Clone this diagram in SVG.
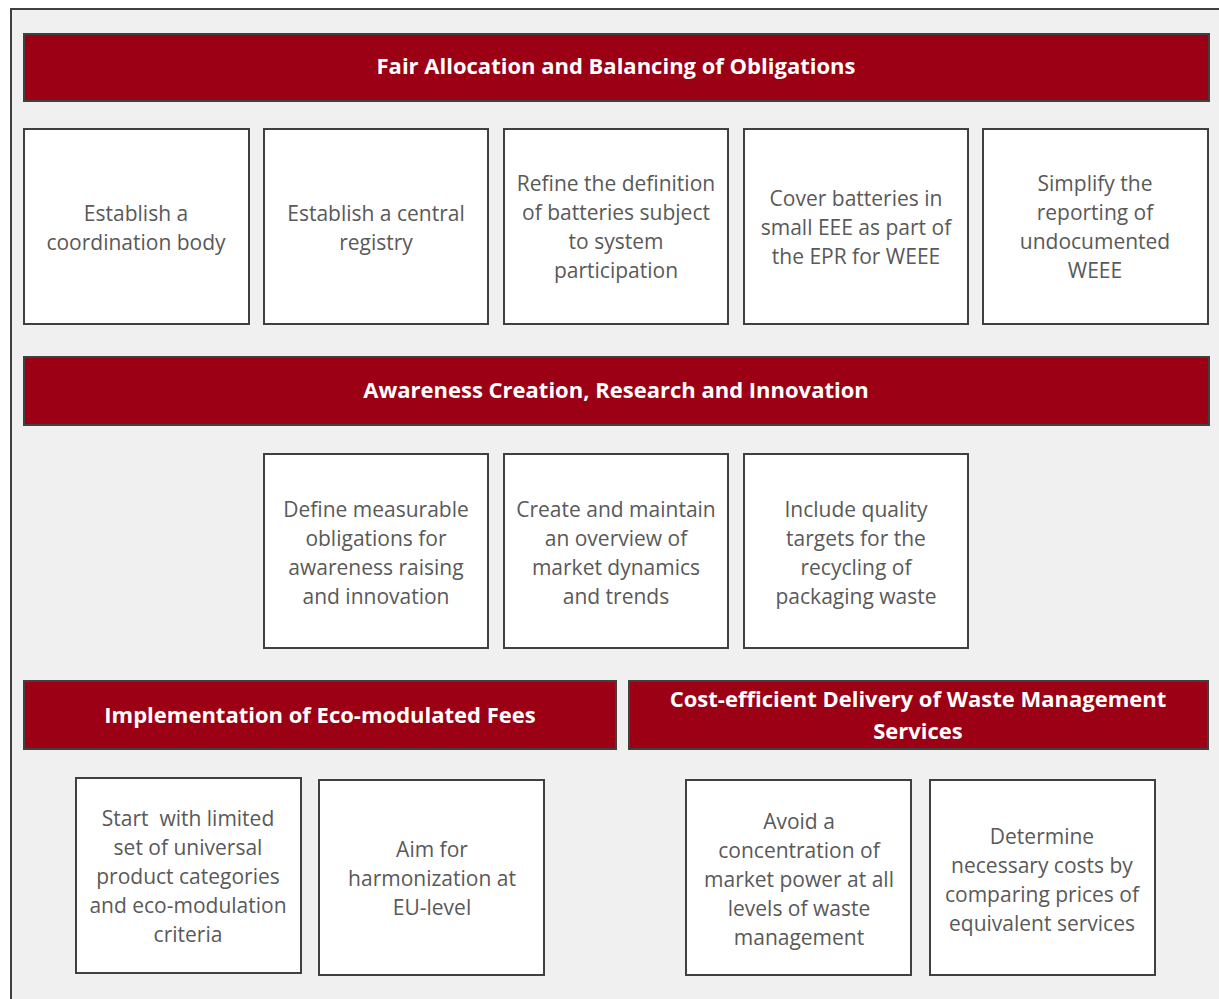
<svg xmlns="http://www.w3.org/2000/svg" width="1219" height="999" viewBox="0 0 1219 999">
<style>
.frame{fill:#f0f0f0;stroke:#404040;stroke-width:2}
.ban{fill:#9b0014;stroke:#404040;stroke-width:2}
.box{fill:#ffffff;stroke:#404040;stroke-width:2}
.bt{font-family:"Open Sans","Liberation Sans",Arial,sans-serif;font-weight:bold;font-size:22px;fill:#ffffff;text-anchor:middle}
.t{font-family:"Open Sans","Liberation Sans",Arial,sans-serif;font-size:21px;fill:#595959;text-anchor:middle}
</style>
<rect class="frame" x="11" y="9" width="1220" height="1000"/>
<g id="banner1"><rect class="ban" x="24" y="34" width="1185" height="67"/><text class="bt" x="616" y="74">Fair Allocation and Balancing of Obligations</text></g>
<g id="n1"><rect class="box" x="24" y="129" width="225" height="195"/><text class="t" x="136" y="221">Establish a</text><text class="t" x="136" y="250">coordination body</text></g>
<g id="n2"><rect class="box" x="264" y="129" width="224" height="195"/><text class="t" x="376" y="221">Establish a central</text><text class="t" x="376" y="250">registry</text></g>
<g id="n3"><rect class="box" x="504" y="129" width="224" height="195"/><text class="t" x="616" y="191">Refine the definition</text><text class="t" x="616" y="220">of batteries subject</text><text class="t" x="616" y="249">to system</text><text class="t" x="616" y="278">participation</text></g>
<g id="n4"><rect class="box" x="744" y="129" width="224" height="195"/><text class="t" x="856" y="206">Cover batteries in</text><text class="t" x="856" y="235">small EEE as part of</text><text class="t" x="856" y="264">the EPR for WEEE</text></g>
<g id="n5"><rect class="box" x="983" y="129" width="225" height="195"/><text class="t" x="1095" y="191">Simplify the</text><text class="t" x="1095" y="220">reporting of</text><text class="t" x="1095" y="249">undocumented</text><text class="t" x="1095" y="278">WEEE</text></g>
<g id="banner2"><rect class="ban" x="24" y="357" width="1185" height="68"/><text class="bt" x="616" y="398">Awareness Creation, Research and Innovation</text></g>
<g id="n6"><rect class="box" x="264" y="454" width="224" height="194"/><text class="t" x="376" y="517">Define measurable</text><text class="t" x="376" y="546">obligations for</text><text class="t" x="376" y="575">awareness raising</text><text class="t" x="376" y="604">and innovation</text></g>
<g id="n7"><rect class="box" x="504" y="454" width="224" height="194"/><text class="t" x="616" y="517">Create and maintain</text><text class="t" x="616" y="546">an overview of</text><text class="t" x="616" y="575">market dynamics</text><text class="t" x="616" y="604">and trends</text></g>
<g id="n8"><rect class="box" x="744" y="454" width="224" height="194"/><text class="t" x="856" y="517">Include quality</text><text class="t" x="856" y="546">targets for the</text><text class="t" x="856" y="575">recycling of</text><text class="t" x="856" y="604">packaging waste</text></g>
<g id="banner3"><rect class="ban" x="24" y="681" width="592" height="68"/><text class="bt" x="320" y="723">Implementation of Eco-modulated Fees</text></g>
<g id="banner4"><rect class="ban" x="629" y="681" width="579" height="68"/><text class="bt" x="918" y="707">Cost-efficient Delivery of Waste Management</text><text class="bt" x="918" y="739">Services</text></g>
<g id="n9"><rect class="box" x="76" y="778" width="225" height="195"/><text class="t" x="188" y="826" style="white-space:pre">Start  with limited</text><text class="t" x="188" y="855">set of universal</text><text class="t" x="188" y="884">product categories</text><text class="t" x="188" y="913">and eco-modulation</text><text class="t" x="188" y="942">criteria</text></g>
<g id="n10"><rect class="box" x="319" y="780" width="225" height="195"/><text class="t" x="432" y="857">Aim for</text><text class="t" x="432" y="886">harmonization at</text><text class="t" x="432" y="915">EU-level</text></g>
<g id="n11"><rect class="box" x="686" y="780" width="225" height="195"/><text class="t" x="799" y="829">Avoid a</text><text class="t" x="799" y="858">concentration of</text><text class="t" x="799" y="887">market power at all</text><text class="t" x="799" y="916">levels of waste</text><text class="t" x="799" y="945">management</text></g>
<g id="n12"><rect class="box" x="930" y="780" width="225" height="195"/><text class="t" x="1042" y="844">Determine</text><text class="t" x="1042" y="873">necessary costs by</text><text class="t" x="1042" y="902">comparing prices of</text><text class="t" x="1042" y="931">equivalent services</text></g>
<g id="connectors"></g>
</svg>
